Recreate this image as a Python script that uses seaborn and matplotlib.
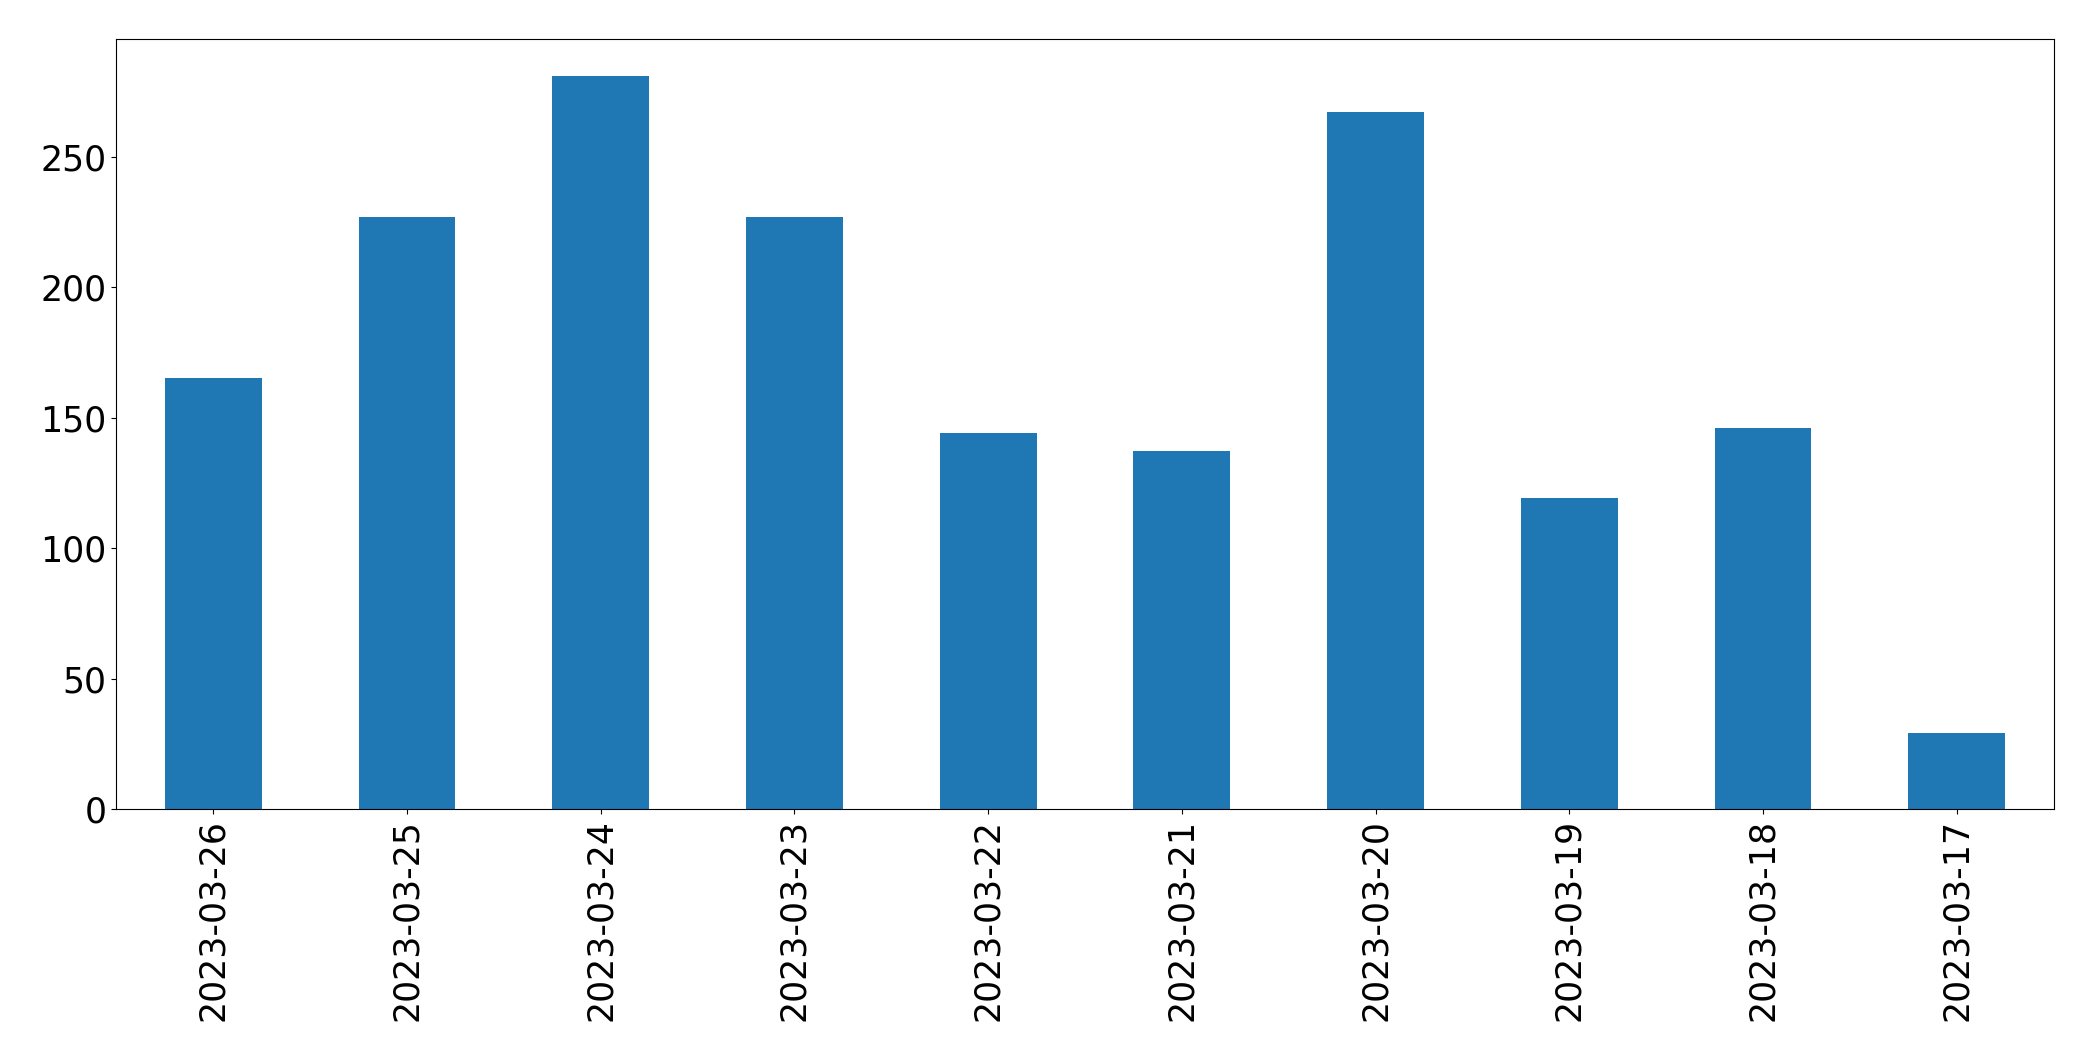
import numpy as np
import pandas as pd
import matplotlib
matplotlib.use("Agg")
import matplotlib.pyplot as plt
import seaborn as sns

# daily counts, newest first
dates = ['2023-03-26', '2023-03-25', '2023-03-24', '2023-03-23', '2023-03-22',
         '2023-03-21', '2023-03-20', '2023-03-19', '2023-03-18', '2023-03-17']
counts = [165, 227, 281, 227, 144, 137, 267, 119, 146, 29]

df = pd.DataFrame({'date': dates, 'count': counts})

fig, ax = plt.subplots(figsize=(20.93, 10.61), dpi=100)
fig.subplots_adjust(left=0.0556, right=0.9812, top=0.9632, bottom=0.2375)

sns.barplot(x='date', y='count', data=df, order=dates, color='#1f77b4',
            saturation=1, width=0.5, ax=ax)

ax.set_xlim(-0.5, len(dates) - 0.5)
ax.set_ylim(0, max(counts) * 1.05)
ax.set_xlabel('')
ax.set_ylabel('')
ax.tick_params(axis='both', labelsize=25)
plt.setp(ax.get_xticklabels(), rotation=90)

fig.savefig('out.png', dpi=100)
